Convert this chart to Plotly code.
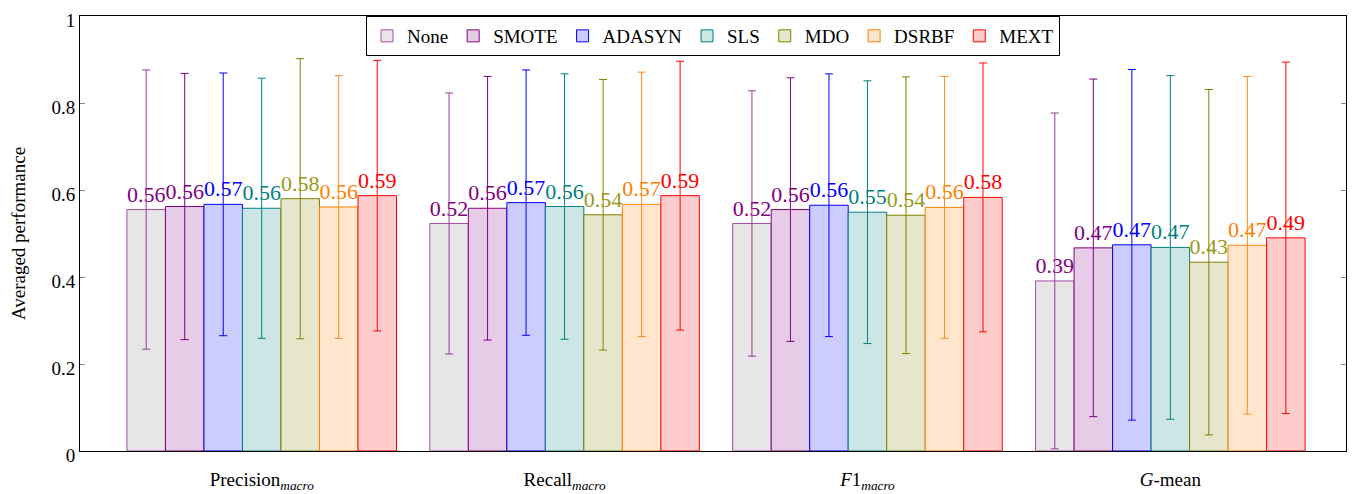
import plotly.graph_objects as go

categories = ["Precision<sub><i>macro</i></sub>", "Recall<sub><i>macro</i></sub>",
              "<i>F</i>1<sub><i>macro</i></sub>", "<i>G</i>-mean"]
methods = ["None", "SMOTE", "ADASYN", "SLS", "MDO", "DSRBF", "MEXT"]

none_vals   = [0.555, 0.523, 0.523, 0.391]
smote_vals  = [0.562, 0.558, 0.555, 0.467]
adasyn_vals = [0.567, 0.571, 0.565, 0.474]
sls_vals    = [0.558, 0.562, 0.549, 0.468]
mdo_vals    = [0.580, 0.543, 0.542, 0.434]
dsrbf_vals  = [0.561, 0.567, 0.560, 0.473]
mext_vals   = [0.587, 0.587, 0.583, 0.490]

none_std   = [0.321, 0.300, 0.305, 0.386]
smote_std  = [0.306, 0.303, 0.303, 0.388]
adasyn_std = [0.302, 0.305, 0.302, 0.403]
sls_std    = [0.299, 0.305, 0.302, 0.395]
mdo_std    = [0.322, 0.311, 0.318, 0.397]
dsrbf_std  = [0.302, 0.304, 0.301, 0.388]
mext_std   = [0.311, 0.309, 0.309, 0.404]

values = [none_vals, smote_vals, adasyn_vals, sls_vals, mdo_vals, dsrbf_vals, mext_vals]
stds = [none_std, smote_std, adasyn_std, sls_std, mdo_std, dsrbf_std, mext_std]

line_colors = ["#a64ca6", "#800080", "#0000ff", "#008080", "#808000", "#ff8000", "#ff0000"]
err_colors  = ["#9a3a9a", "#800080", "#0000ff", "#008080", "#808000", "#ff8c1a", "#ff0000"]
text_colors = ["#800080", "#800080", "#0000ff", "#008080", "#9a9a20", "#ff8000", "#ff0000"]
fill_colors = ["#e6e6e6", "#e6cce6", "#ccccff", "#cce6e6", "#e6e6cc", "#ffe6cc", "#ffcccc"]

FONT = "Liberation Serif"

fig = go.Figure()
for name, v, s, lc, ec, tc, fc in zip(methods, values, stds, line_colors, err_colors, text_colors, fill_colors):
    fig.add_trace(go.Bar(
        name=name, x=categories, y=v,
        marker=dict(color=fc, line=dict(color=lc, width=1)),
        error_y=dict(type="data", array=s, visible=True, color=ec, thickness=1, width=4),
        texttemplate="%{y:.2f}", textposition="outside", constraintext="none",
        textfont=dict(family=FONT, size=22, color=tc),
        cliponaxis=False,
    ))

fig.update_layout(
    width=1349, height=486,
    barmode="group", bargap=0.11, bargroupgap=0,
    plot_bgcolor="white", paper_bgcolor="white",
    margin=dict(l=72, r=11, t=8, b=43, autoexpand=False),
    font=dict(family=FONT, size=17, color="black"),
    legend=dict(orientation="h", x=0.5, xanchor="center", y=1.0, yanchor="top",
                bordercolor="black", borderwidth=1, bgcolor="white",
                font=dict(family=FONT, size=19), itemwidth=30, tracegroupgap=0),
    xaxis=dict(range=[-0.6, 3.58], showline=True, linecolor="black", linewidth=1,
               mirror=True, ticks="", showgrid=False, automargin=False,
               ticklabelstandoff=11,
               tickfont=dict(family=FONT, size=19)),
    yaxis=dict(range=[0, 1], tickvals=[0, 0.2, 0.4, 0.6, 0.8, 1],
               ticktext=["0", "0.2", "0.4", "0.6", "0.8", "1"],
               showline=True, linecolor="black", linewidth=1, mirror="ticks",
               ticks="inside", ticklen=5, tickcolor="#888888", showgrid=False,
               zeroline=False, automargin=False, ticklabeloverflow="allow",
               ticklabelshift=4,
               tickfont=dict(family=FONT, size=19),
               title=dict(text="Averaged performance", font=dict(family=FONT, size=19), standoff=28)),
)

fig.write_html("out.html")
